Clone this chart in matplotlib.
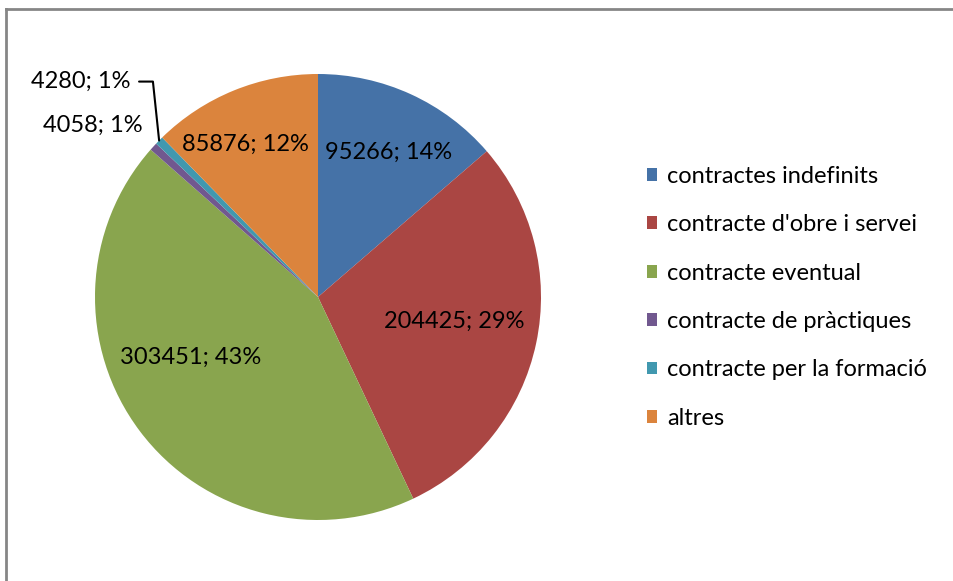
import numpy as np
import matplotlib
matplotlib.use('Agg')
import matplotlib.pyplot as plt
from matplotlib.lines import Line2D
from matplotlib.patches import Patch

categories = ['contractes indefinits', "contracte d'obre i servei", 'contracte eventual',
              'contracte de pràctiques', 'contracte per la formació', 'altres']
values = [95266, 204425, 303451, 4058, 4280, 85876]
percents = [14, 29, 43, 1, 1, 12]
colors = ['#4572A7', '#AA4643', '#89A54E', '#71588F', '#4198AF', '#DB843D']

plt.rcParams['font.family'] = ['Lato', 'DejaVu Sans']
FS = 17

fig = plt.figure(figsize=(9.54, 5.81), dpi=100)
ax = fig.add_axes([95 / 954, (581 - 297 - 223) / 581, 446 / 954, 446 / 581])

wedges, _ = ax.pie(values, colors=colors, startangle=90, counterclock=False,
                   radius=1, wedgeprops=dict(linewidth=0))
ax.set_xlim(-1, 1)
ax.set_ylim(-1, 1)
ax.set_aspect('equal')
ax.axis('off')

labels = ['%d; %d%%' % (v, p) for v, p in zip(values, percents)]

# label placement: distance from centre and angle shift from slice middle
label_r = [0.72, 0.62, 0.63, None, None, 0.76]
label_shift = [-1.3, 2.0, -11.7, 0, 0, 3.3]
for i, w in enumerate(wedges):
    if label_r[i] is None:
        continue
    ang = np.deg2rad((w.theta1 + w.theta2) / 2 + label_shift[i])
    ax.text(label_r[i] * np.cos(ang), label_r[i] * np.sin(ang), labels[i],
            ha='center', va='center', fontsize=FS, color='black')

# small slices
w = wedges[3]
ang = np.deg2rad(135.5)
ax.text(1.10 * np.cos(ang), 1.10 * np.sin(ang), labels[3],
        ha='right', va='center', fontsize=FS)

w = wedges[4]
mid = np.deg2rad((w.theta1 + w.theta2) / 2)
ax.annotate(labels[4], xy=(np.cos(mid), np.sin(mid)),
            xytext=(1.28 * np.cos(np.deg2rad(131)), 1.28 * np.sin(np.deg2rad(131))),
            ha='right', va='center', fontsize=FS, annotation_clip=False,
            arrowprops=dict(arrowstyle='-', color='black', lw=1.5,
                            connectionstyle='angle,angleA=0,angleB=96,rad=0',
                            shrinkA=4, shrinkB=0))

handles = [Patch(facecolor=c, edgecolor='none') for c in colors]
fig.legend(handles, categories, loc='upper left', bbox_to_anchor=(635 / 954, 1 - 154 / 581),
           frameon=False, fontsize=FS, handlelength=0.45, handleheight=0.45,
           handletextpad=0.4, labelspacing=1.16, borderpad=0)

# chart frame (only top and left visible)
fig.add_artist(Line2D([6 / 954, 1], [1 - 9 / 581, 1 - 9 / 581], color='#868686', lw=2,
                      transform=fig.transFigure))
fig.add_artist(Line2D([6 / 954, 6 / 954], [0, 1 - 9 / 581], color='#868686', lw=2,
                      transform=fig.transFigure))

fig.savefig('out.png', dpi=100, facecolor='white')
